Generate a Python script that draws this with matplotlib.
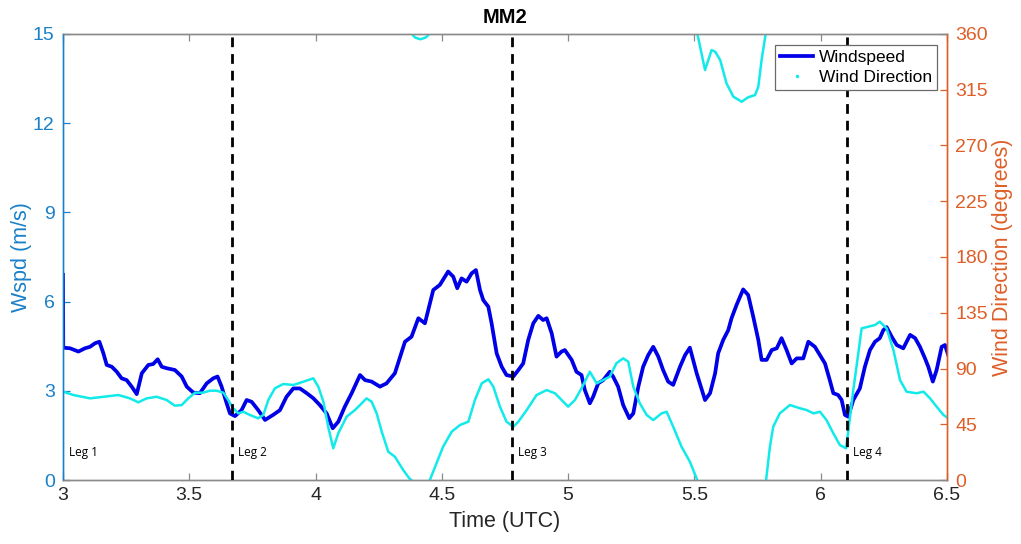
import matplotlib
matplotlib.use('Agg')
import matplotlib.pyplot as plt
from matplotlib.lines import Line2D
import numpy as np

plt.rcParams['font.family'] = ['Liberation Sans', 'DejaVu Sans']

# Wind speed (m/s) vs time (UTC hours)
ws_time = [3.000, 3.001, 3.028, 3.061, 3.087, 3.107, 3.127, 3.144, 3.160, 3.173,
           3.193, 3.213, 3.232, 3.252, 3.272, 3.292, 3.312, 3.338, 3.357, 3.375,
           3.391, 3.410, 3.443, 3.470, 3.490, 3.516, 3.542, 3.569, 3.595, 3.612,
           3.628, 3.648, 3.661, 3.681, 3.707, 3.727, 3.747, 3.773, 3.800, 3.832,
           3.859, 3.885, 3.912, 3.938, 3.965, 3.991, 4.017, 4.044, 4.068, 4.090,
           4.116, 4.143, 4.176, 4.196, 4.222, 4.255, 4.281, 4.314, 4.354, 4.380,
           4.407, 4.433, 4.466, 4.492, 4.525, 4.545, 4.561, 4.578, 4.598, 4.618,
           4.635, 4.651, 4.664, 4.684, 4.697, 4.717, 4.737, 4.756, 4.783, 4.803,
           4.822, 4.842, 4.862, 4.882, 4.901, 4.915, 4.935, 4.954, 4.974, 4.987,
           5.014, 5.033, 5.053, 5.066, 5.086, 5.099, 5.119, 5.139, 5.165, 5.178,
           5.198, 5.218, 5.242, 5.258, 5.278, 5.297, 5.317, 5.337, 5.357, 5.376,
           5.396, 5.416, 5.443, 5.463, 5.482, 5.509, 5.542, 5.562, 5.582, 5.594,
           5.614, 5.634, 5.647, 5.667, 5.693, 5.713, 5.733, 5.753, 5.766, 5.786,
           5.806, 5.826, 5.845, 5.865, 5.885, 5.905, 5.931, 5.951, 5.977, 5.997,
           6.017, 6.036, 6.050, 6.069, 6.083, 6.096, 6.109, 6.129, 6.155, 6.175,
           6.195, 6.215, 6.234, 6.248, 6.261, 6.281, 6.301, 6.327, 6.354, 6.374,
           6.393, 6.413, 6.426, 6.444, 6.459, 6.479, 6.492, 6.505]
ws_speed = [6.90, 4.45, 4.43, 4.32, 4.43, 4.48, 4.60, 4.65, 4.26, 3.87,
            3.81, 3.64, 3.42, 3.36, 3.14, 2.89, 3.59, 3.87, 3.90, 4.06,
            3.81, 3.76, 3.70, 3.48, 3.14, 2.94, 2.92, 3.25, 3.42, 3.48,
            3.14, 2.58, 2.24, 2.15, 2.35, 2.69, 2.63, 2.35, 2.02, 2.19,
            2.35, 2.80, 3.08, 3.08, 2.92, 2.75, 2.52, 2.24, 1.74, 1.96,
            2.47, 2.92, 3.53, 3.36, 3.31, 3.14, 3.25, 3.59, 4.65, 4.82,
            5.44, 5.27, 6.39, 6.56, 7.01, 6.84, 6.45, 6.78, 6.67, 6.95,
            7.06, 6.39, 6.05, 5.83, 5.27, 4.26, 3.81, 3.53, 3.48, 3.70,
            3.92, 4.71, 5.27, 5.52, 5.38, 5.44, 4.93, 4.15, 4.32, 4.37,
            4.04, 3.64, 3.53, 3.03, 2.58, 2.80, 3.25, 3.36, 3.64, 3.48,
            3.14, 2.52, 2.08, 2.24, 3.14, 3.81, 4.20, 4.48, 4.15, 3.70,
            3.31, 3.20, 3.81, 4.20, 4.45, 3.59, 2.69, 2.92, 3.59, 4.26,
            4.71, 5.04, 5.44, 5.89, 6.41, 6.22, 5.49, 4.71, 4.04, 4.04,
            4.37, 4.43, 4.77, 4.37, 3.92, 4.09, 4.09, 4.65, 4.48, 4.20,
            3.92, 3.36, 2.92, 2.86, 2.69, 2.19, 2.13, 2.69, 3.08, 3.81,
            4.37, 4.65, 4.77, 5.04, 5.14, 4.82, 4.54, 4.43, 4.88, 4.77,
            4.48, 4.09, 3.81, 3.31, 3.70, 4.48, 4.54, 4.20]

# Wind direction (degrees, 0-360) vs time (UTC hours)
wd_time = [3.001, 3.041, 3.107, 3.160, 3.219, 3.265, 3.298, 3.331, 3.371, 3.410,
           3.443, 3.470, 3.496, 3.523, 3.555, 3.582, 3.608, 3.635, 3.654, 3.674,
           3.694, 3.714, 3.740, 3.773, 3.793, 3.813, 3.839, 3.872, 3.912, 3.951,
           3.991, 4.011, 4.031, 4.050, 4.070, 4.090, 4.123, 4.156, 4.176, 4.202,
           4.222, 4.242, 4.262, 4.288, 4.314, 4.347, 4.371, 4.378,
           4.382, 4.395, 4.415, 4.435, 4.450,
           4.453, 4.479, 4.505, 4.539, 4.572, 4.605, 4.631, 4.658, 4.684, 4.704,
           4.730, 4.756, 4.783, 4.803, 4.836, 4.875, 4.915, 4.948, 4.974, 5.000,
           5.027, 5.053, 5.086, 5.113, 5.139, 5.165, 5.191, 5.218, 5.238, 5.258,
           5.284, 5.311, 5.337, 5.370, 5.390, 5.416, 5.449, 5.482, 5.509, 5.511,
           5.512, 5.542, 5.568, 5.582, 5.602, 5.627, 5.654, 5.687, 5.713, 5.740,
           5.753, 5.766, 5.782,
           5.784, 5.799, 5.812, 5.838, 5.878, 5.918, 5.944, 5.971, 5.997, 6.023,
           6.050, 6.076, 6.100, 6.109, 6.129, 6.149, 6.162, 6.188, 6.215, 6.234,
           6.261, 6.288, 6.314, 6.340, 6.380, 6.407, 6.433, 6.459, 6.486, 6.505]
wd_deg = [71.3, 68.6, 65.9, 67.2, 68.6, 65.9, 62.7, 65.9, 67.2, 64.6,
          60.0, 60.5, 65.9, 70.5, 70.5, 72.1, 72.1, 70.5, 64.6, 57.9,
          53.8, 55.1, 52.5, 49.8, 52.5, 64.6, 74.0, 77.5, 76.7, 79.3,
          82.1, 75.3, 63.2, 43.0, 25.6, 37.7, 51.1, 56.5, 60.5, 65.9,
          63.2, 53.8, 39.0, 22.8, 18.8, 8.1, 1.4, 0.2,
          359.8, 357.0, 355.7, 357.0, 359.8,
          0.3, 13.5, 26.9, 39.0, 44.4, 47.1, 64.6, 78.0, 81.3, 75.3,
          59.2, 47.1, 43.0, 47.1, 56.5, 68.6, 72.6, 70.0, 64.6, 59.2,
          64.6, 74.0, 87.4, 78.0, 80.7, 83.4, 94.2, 98.2, 95.5, 75.3,
          61.9, 52.5, 48.4, 53.8, 55.1, 43.0, 26.9, 14.8, 1.4, 0.2,
          359.8, 330.9, 347.0, 345.7, 339.0, 320.2, 309.4, 305.3, 308.9, 310.7,
          317.4, 339.0, 359.8,
          0.3, 26.9, 43.0, 53.8, 60.5, 57.9, 56.5, 53.8, 55.1, 48.4,
          37.7, 28.2, 25.6, 39.0, 72.6, 102.3, 122.4, 123.7, 125.1, 127.8,
          122.4, 104.9, 80.7, 71.3, 70.0, 71.3, 65.9, 59.2, 52.5, 49.8]

# Flight legs
leg_bounds = [3.669, 4.778, 6.104]
leg_labels = ['Leg 1', 'Leg 2', 'Leg 3', 'Leg 4']

left_color = '#1a80c8'
right_color = '#df5e28'
frame_gray = '#8a8a8a'
text_dark = '#262626'

fig = plt.figure(figsize=(10.21, 5.44), dpi=100)
ax = fig.add_axes([0.0617, 0.1176, 0.8658, 0.82])
ax2 = ax.twinx()

# Windspeed on the left axis
ws_line, = ax.plot(ws_time, ws_speed, color='#0000e8', lw=2.7,
                   solid_joinstyle='round', label='Windspeed')
ax.set_xlim(3, 6.5)
ax.set_ylim(0, 15)
ax.set_xticks([3, 3.5, 4, 4.5, 5, 5.5, 6, 6.5])
ax.set_xticklabels(['3', '3.5', '4', '4.5', '5', '5.5', '6', '6.5'])
ax.set_yticks([0, 3, 6, 9, 12, 15])

# Wind direction on the right axis; break the trace where it wraps 0/360
t = np.asarray(wd_time, float)
d = np.asarray(wd_deg, float)
wrap = np.where(np.abs(np.diff(d)) > 180)[0] + 1
t_plot = np.insert(t, wrap, np.nan)
d_plot = np.insert(d, wrap, np.nan)
ax2.plot(t_plot, d_plot, color='#12eaea', lw=1.8, label='Wind Direction')
ax2.set_ylim(0, 360)
ax2.set_yticks(np.arange(0, 361, 45))

# Leg boundaries and labels
for xb in leg_bounds:
    ax2.axvline(xb, color='black', lw=2.0, ls=(0, (3.5, 2.5)), zorder=5)
for start, lab in zip([3.0] + leg_bounds, leg_labels):
    ax2.text(start + 0.022, 22.5, lab, fontsize=8.5, color='black',
             family=['Open Sans', 'DejaVu Sans'], va='center', ha='left', zorder=6)

# Axis styling
for a in (ax, ax2):
    a.spines['top'].set_color(frame_gray)
    a.spines['bottom'].set_color(frame_gray)
    a.spines['left'].set_color(left_color)
    a.spines['right'].set_color(right_color)
    for s in a.spines.values():
        s.set_linewidth(1.0)
ax.tick_params(axis='x', direction='in', top=True, length=5, width=0.9,
               colors=frame_gray, labelcolor=text_dark, labelsize=14, pad=5)
ax.tick_params(axis='y', direction='in', length=5, width=0.9,
               colors=left_color, labelsize=14, pad=6)
ax2.tick_params(axis='y', direction='in', length=5, width=0.9,
                colors=right_color, labelsize=14, pad=6)

ax.set_xlabel('Time (UTC)', fontsize=15.5, color=text_dark, labelpad=5)
ax.set_ylabel('Wspd (m/s)', fontsize=15.5, color=left_color, labelpad=1)
ax2.set_ylabel('Wind Direction (degrees)', fontsize=15.5, color=right_color, labelpad=3)
ax.set_title('MM2', fontsize=14.5, fontweight='bold', color='black', pad=8)

handles = [Line2D([], [], color='#0000e8', lw=2.7),
           Line2D([], [], color='#12eaea', marker='.', ls='none', markersize=3)]
leg = ax2.legend(handles, ['Windspeed', 'Wind Direction'], loc='upper right',
                 bbox_to_anchor=(0.9887, 0.9753), borderaxespad=0,
                 fancybox=False, framealpha=1, edgecolor='#6a6a6a',
                 fontsize=12.5, handlelength=1.9, handletextpad=0.3,
                 labelspacing=0.25, borderpad=0.3)
leg.get_frame().set_linewidth(0.9)
leg.set_zorder(10)

fig.savefig('out.png', dpi=100)
